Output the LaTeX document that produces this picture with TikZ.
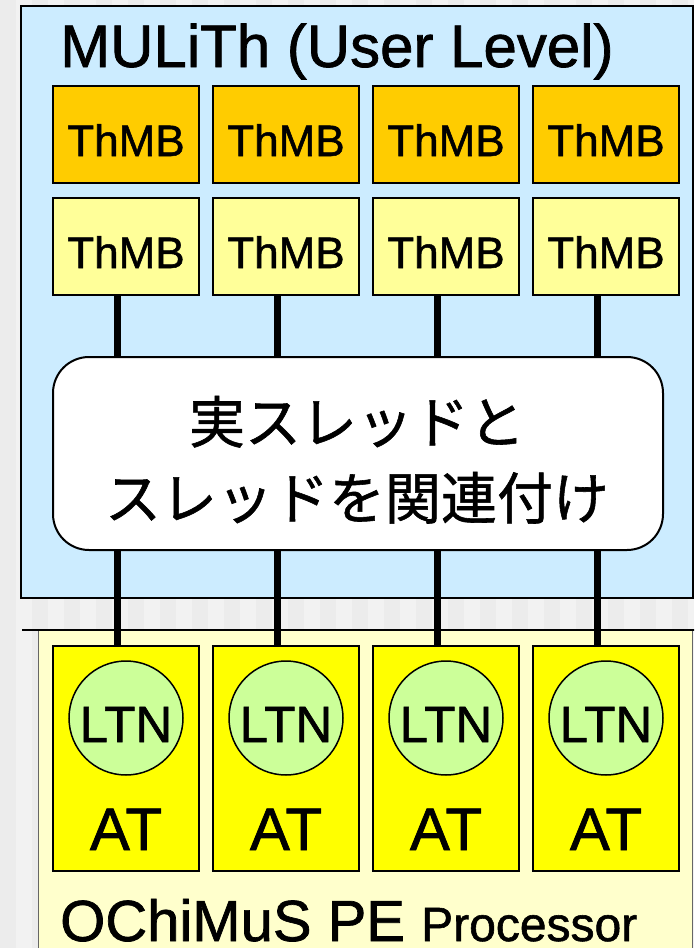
\documentclass[tikz,border=0pt]{standalone}
\usepackage{fontspec}
\setmainfont{Liberation Sans}[BoldFont=Liberation Sans, BoldFeatures={FakeBold=1.2}]
\newfontfamily\jfont{Noto Sans CJK JP}[BoldFont=Noto Sans CJK JP, BoldFeatures={FakeBold=1.0}]
\definecolor{bgc}{HTML}{F2F2F2}
\definecolor{bgs}{HTML}{ECECEC}
\definecolor{userblue}{HTML}{CCECFF}
\definecolor{orangeb}{HTML}{FFCC00}
\definecolor{lyellow}{HTML}{FFFF99}
\definecolor{yellowb}{HTML}{FFFF00}
\definecolor{greenc}{HTML}{CCFF99}
\definecolor{creamb}{HTML}{FFFFCC}
\tikzset{
  obox/.style={draw=black, line width=1.5pt, fill=orangeb, minimum width=146pt, minimum height=97pt, inner sep=0pt},
  ybox/.style={draw=black, line width=1.5pt, fill=lyellow, minimum width=146pt, minimum height=97pt, inner sep=0pt},
  atbox/.style={draw=black, line width=1.5pt, fill=yellowb, minimum width=146pt, minimum height=225pt, inner sep=0pt},
  ltn/.style={circle, draw=black, line width=1.5pt, fill=greenc, minimum size=114pt, inner sep=0pt},
  ltntxt/.style={anchor=base, inner sep=0pt, font=\bfseries\fontsize{51}{51}\selectfont},
  thtxt/.style={anchor=base, inner sep=0pt, font=\bfseries\fontsize{44}{44}\selectfont},
  attxt/.style={anchor=base, inner sep=0pt, font=\bfseries\fontsize{60}{60}\selectfont},
  jtxt/.style={anchor=base, inner sep=0pt, font=\jfont\bfseries\fontsize{56}{56}\selectfont},
  conn/.style={line width=7pt, black},
}
\begin{document}
\begin{tikzpicture}[x=1pt,y=-1pt]
\useasboundingbox (0,0) rectangle (694,948);
\clip (0,0) rectangle (694,948);
\fill[bgc] (0,0) rectangle (694,948);
\foreach \i in {0,2,...,44} {\fill[bgs] (\i*16,0) rectangle (\i*16+16,948);}
% upper container
\node[draw=black, line width=2pt, fill=userblue, minimum width=672pt, minimum height=592pt, inner sep=0pt] (mulith) at (357,302) {};
\node[anchor=base west, inner sep=0pt, font=\bfseries\fontsize{60}{60}\selectfont] (title) at (60,67) {MULiTh (User Level)};
% lower container
\node[draw=black!60, line width=0.8pt, fill=creamb, minimum width=654pt, minimum height=340pt, inner sep=0pt] (pe) at (365,800) {};
\coordinate (peL) at (22,630);
\coordinate (peR) at (700,630);
\draw[line width=2.6pt, black] (peL) -- (peR);
\node[anchor=base west, inner sep=0pt, font=\bfseries\fontsize{58}{58}\selectfont] (petitle) at (60,941) {OChiMuS PE \fontsize{48}{48}\selectfont Processor};
% boxes
\foreach \n/\x in {1/126,2/286,3/446,4/606} {
  \node[obox] (o\n) at (\x,134.5) {};
  \node[thtxt] (to\n) at (\x,156) {ThMB};
  \node[ybox] (y\n) at (\x,246.5) {};
  \node[thtxt] (ty\n) at (\x,268) {ThMB};
  \node[atbox] (a\n) at (\x,758.5) {};
  \node[ltn] (l\n) at (\x,718) {};
  \node[ltntxt] (tl\n) at (\x,742) {LTN};
  \node[attxt] (ta\n) at (\x,850) {AT};
}
% mapping box
\node[draw=black, line width=2pt, fill=white, rounded corners=36pt, minimum width=610pt, minimum height=193pt, inner sep=0pt] (map) at (358,453.5) {};
\node[jtxt] (m1) at (357,443) {実スレッドと};
\node[jtxt] (m2) at (357,519) {スレッドを関連付け};
% connectors
\foreach \n in {1,2,3,4} {
  \draw[conn] ([xshift=-9pt]y\n.south) -- ([xshift=-9pt]y\n.south |- map.north);
  \draw[conn] ([xshift=-9pt]a\n.north |- map.south) -- ([xshift=-9pt]a\n.north);
}
\end{tikzpicture}
\end{document}
